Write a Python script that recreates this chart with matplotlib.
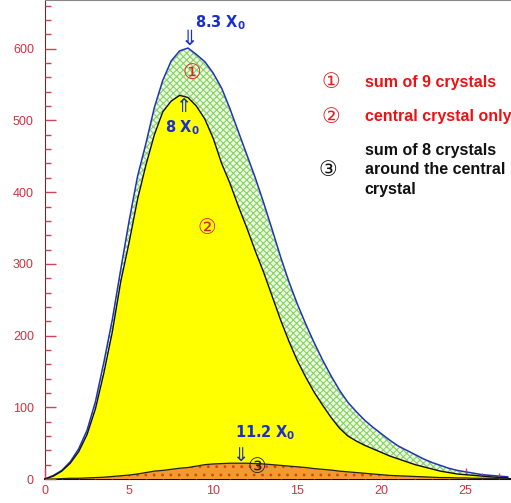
import matplotlib
matplotlib.use("Agg")
import matplotlib.pyplot as plt
from matplotlib.ticker import MultipleLocator

plt.rcParams['font.family'] = ['Liberation Sans', 'DejaVu Sans', 'Noto Sans CJK SC']
plt.rcParams['hatch.linewidth'] = 0.8

# depth in radiation lengths (X0), sampled every 0.5 X0
depth = [i * 0.5 for i in range(56)]

# sum of 9 crystals
sum9 = [0, 5, 12, 24, 42, 68, 108, 163, 222, 292, 360, 422, 468, 518, 556, 583,
        597, 601, 592, 582, 566, 545, 516, 484, 452, 420, 385, 348, 310, 275,
        244, 216, 190, 166, 144, 124, 107, 94, 82, 72, 63, 54, 46, 40, 34, 28,
        23, 19, 15, 12, 10, 8, 6, 5, 4, 3]

# central crystal only
central = [0, 4, 11, 22, 38, 62, 98, 148, 205, 275, 330, 390, 438, 480, 512, 527,
           535, 532, 520, 502, 475, 440, 412, 380, 350, 318, 288, 255, 222, 192,
           165, 142, 121, 103, 86, 71, 60, 53, 47, 42, 37, 32, 28, 24, 20, 17,
           14, 11, 9, 7, 6, 5, 4, 3, 2, 2]

# sum of 8 crystals around the central crystal
ring8 = [0, 0, 0.5, 1, 1, 1.5, 2, 2.5, 3.5, 4.5, 5.5, 7, 9, 11, 12, 13.5,
         15, 16, 18, 20, 21, 21.5, 22, 22, 22, 21.5, 21, 20, 19, 18,
         17, 16, 14.5, 13.5, 12.5, 11, 10, 9, 8, 7, 6, 5, 4.5, 4, 3.5, 3,
         2.5, 2, 2, 1.5, 1.5, 1, 1, 1, 1, 1]

fig = plt.figure(figsize=(5.11, 5.03), dpi=100)
ax = fig.add_axes([45 / 511, 24 / 503, 1 - 45 / 511, 1 - 24 / 503])

# outer: sum of 9 crystals (green hatched)
ax.fill_between(depth, 0, sum9, facecolor='#eefae4', edgecolor='#86d462',
                hatch='xxxxx', linewidth=0, zorder=1)
ax.plot(depth, sum9, color='#2233bb', lw=1.1, zorder=2)

# central crystal (yellow)
ax.fill_between(depth, 0, central, facecolor='#ffff00', linewidth=0, zorder=3)
ax.plot(depth, central, color='#111111', lw=1.0, zorder=4)

# ring of 8 crystals (orange dotted)
ax.fill_between(depth, 0, ring8, facecolor='#f29a30', edgecolor='#e04010',
                hatch='..', linewidth=0, zorder=5)
ax.plot(depth, ring8, color='#222222', lw=0.9, zorder=6)

ax.set_xlim(0, 27.7)
ax.set_ylim(0, 668)

tick_red = '#cc3344'
ax.xaxis.set_major_locator(MultipleLocator(5))
ax.xaxis.set_minor_locator(MultipleLocator(1))
ax.yaxis.set_major_locator(MultipleLocator(100))
ax.yaxis.set_minor_locator(MultipleLocator(20))
ax.tick_params(which='both', direction='in', colors='#cc4455', labelcolor=tick_red,
               labelsize=9, zorder=10)
ax.tick_params(which='major', length=8, width=1)
ax.tick_params(which='minor', length=4, width=1)
ax.tick_params(axis='x', pad=4)
ax.tick_params(axis='y', pad=8)
ax.set_axisbelow(False)

ax.spines['right'].set_visible(False)
ax.spines['top'].set_color('#888888')
ax.spines['left'].set_color('#553333')
ax.spines['bottom'].set_color('#111111')
ax.spines['bottom'].set_linewidth(1.5)

blue = '#1a2fd0'
# peak markers
ax.text(8.57, 614, '\u21d3', color=blue, fontsize=15, ha='center', va='center',
        family='DejaVu Sans', zorder=12)
ax.text(10.45, 637, r'$\mathbf{8.3\ X_0}$', color=blue, fontsize=10.5,
        ha='center', va='center', zorder=12)
ax.text(8.2, 520, '\u21d1', color=blue, fontsize=14, ha='center', va='center',
        family='DejaVu Sans', zorder=12)
ax.text(8.15, 490, r'$\mathbf{8\ X_0}$', color=blue, fontsize=10.5,
        ha='center', va='center', zorder=12)
ax.text(11.6, 33, '\u21d3', color=blue, fontsize=14, ha='center', va='center',
        family='DejaVu Sans', zorder=12)
ax.text(13.1, 65, r'$\mathbf{11.2\ X_0}$', color=blue, fontsize=10.5,
        ha='center', va='center', zorder=12)

# circled labels on the curves
circ = ['DejaVu Sans', 'Noto Sans CJK SC']
ax.text(8.75, 566, '\u2460', color='#dd2222', fontsize=15, ha='center',
        va='center', family=circ, zorder=12)
ax.text(9.65, 350, '\u2461', color='#dd2222', fontsize=15, ha='center',
        va='center', family=circ, zorder=12)
ax.text(12.6, 17, '\u2462', color='#222222', fontsize=15, ha='center',
        va='center', family=circ, zorder=12)

# legend block
ax.text(17.0, 553, '\u2460', color='#dd2222', fontsize=15, ha='center',
        va='center', family=circ)
ax.text(19.0, 553, 'sum of 9 crystals', color='#ee1111', fontsize=11.5,
        fontweight='bold', ha='left', va='center')
ax.text(17.0, 505, '\u2461', color='#dd2222', fontsize=15, ha='center',
        va='center', family=circ)
ax.text(19.0, 505, 'central crystal only', color='#ee1111', fontsize=11.5,
        fontweight='bold', ha='left', va='center')
ax.text(16.8, 431, '\u2462', color='#111111', fontsize=15, ha='center',
        va='center', family=circ)
ax.text(19.0, 431, 'sum of 8 crystals\naround the central\ncrystal',
        color='#111111', fontsize=11.5, fontweight='bold', ha='left',
        va='center', linespacing=1.35)

fig.savefig('out.png', dpi=100, facecolor='white')
